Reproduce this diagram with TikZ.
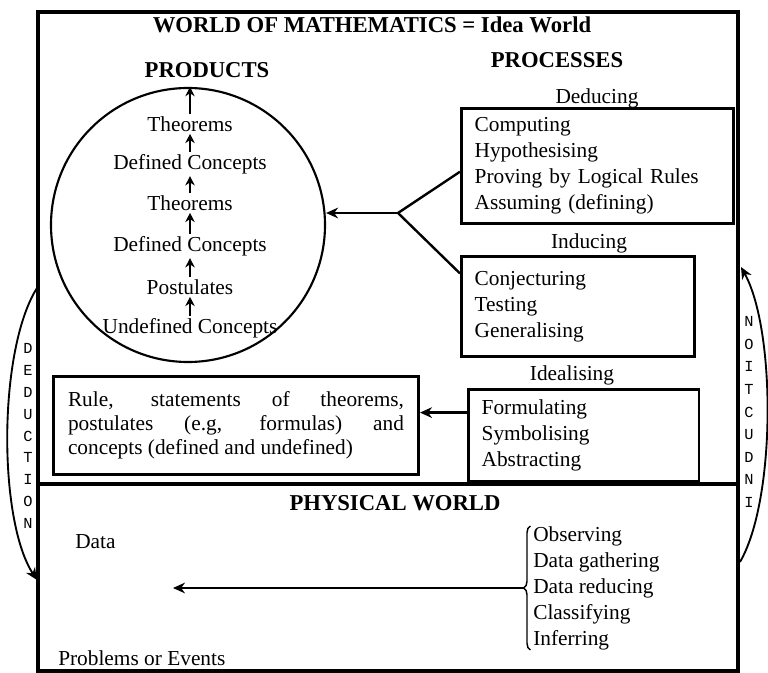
\documentclass[tikz,border=0pt]{standalone}
\usepackage{fontspec}
\setmainfont{Liberation Serif}
\setmonofont{Liberation Mono}
\usetikzlibrary{positioning,arrows.meta,calc,decorations.pathreplacing}

\begin{document}
\begin{tikzpicture}[
  x=.75pt,y=-.75pt,>=Stealth,
  font=\fontsize{16}{19.5}\selectfont,
  heading/.style={font=\fontsize{17}{20}\selectfont\bfseries,inner sep=0pt},
  frame/.style={black,line width=2.6pt},
  procbox/.style={draw,line width=2pt,anchor=north west,align=left,inner xsep=10pt,inner ysep=0pt},
  procname/.style={inner sep=0pt},
  concept/.style={inner sep=1.5pt},
  uparrow/.style={-{Stealth[length=7pt,width=7pt]},line width=1.4pt},
  link/.style={-{Stealth[length=9pt,width=8pt]},line width=1.9pt},
  spelled/.style={font=\fontsize{11.5}{16.4}\selectfont\ttfamily,align=center,inner sep=0pt}
]
\useasboundingbox (0,0) rectangle (768,673);

% the two worlds
\draw[frame] (38,12) rectangle (738,671);
\draw[frame,line width=3.4pt] (38,484) -- (738,484);
\node[heading] (maths) at (372,25) {WORLD OF MATHEMATICS = Idea World};
\node[heading] (products) at (207,70) {PRODUCTS};
\node[heading] (processes) at (557,60) {PROCESSES};

% products
\node[circle,draw,line width=1.6pt,minimum size={274*.75pt},inner sep=0pt] (idea) at (188,225) {};
\node[concept] (thB) at (190,124) {Theorems};
\node[concept] (defB) at (190,164) {Defined Concepts};
\node[concept] (thA) at (190,203) {Theorems};
\node[concept] (defA) at (190,246) {Defined Concepts};
\node[concept] (post) at (190,287) {Postulates};
\node[concept] (undef) at (190,328) {Undefined Concepts};
\foreach \a/\b in {undef/post,post/defA,defA/thA,thA/defB,defB/thB}
  \draw[uparrow] (\a.north) -- (\b.south);
\draw[uparrow] (thB.north) -- (thB.north |- idea.north);

% processes
\node[procname] (deducing) at (597,98) {Deducing};
\node[procbox,text width=184pt,minimum height=86.25pt] (dedbox) at (460,107)
  {Computing\\Hypothesising\\Proving by Logical Rules\\Assuming (defining)};
\node[procname] (inducing) at (589,243) {Inducing};
\node[procbox,text width=154.75pt,minimum height=75pt] (indbox) at (460,255)
  {Conjecturing\\Testing\\Generalising};
\node[procname] (idealising) at (572,375) {Idealising};
\node[procbox,text width=153pt,minimum height=69pt] (idlbox) at (467,388)
  {Formulating\\Symbolising\\Abstracting};

\coordinate (split) at (398,213);
\draw[line width=1.8pt] ($(dedbox.north west)!.55!(dedbox.south west)$) -- (split)
  -- ($(indbox.north west)!.18!(indbox.south west)$);
\draw[link] (split) -- (split -| idea.east);

\node[draw,line width=2pt,anchor=north west,text width=252pt,align=justify,inner xsep=11pt,
  minimum height=73.5pt,font=\fontsize{16}{18}\selectfont] (rules) at (52,375)
  {Rule, statements of theorems,\linebreak postulates (e.g, formulas) and\linebreak concepts (defined and undefined)};
\coordinate (idlout) at ($(idlbox.north west)!.26!(idlbox.south west)$);
\draw[link] (idlout) -- (idlout -| rules.east);

% physical world
\node[heading] (physical) at (395,503) {PHYSICAL WORLD};
\node[anchor=west,inner sep=0pt] (data) at (75,542) {Data};
\node[anchor=west,inner sep=0pt] (events) at (58,658) {Problems or Events};
\node[anchor=west,align=left,inner sep=0pt] (methods) at (533,588)
  {Observing\\Data gathering\\Data reducing\\Classifying\\Inferring};
\draw[line width=1.1pt,decorate,decoration={brace,amplitude=5pt}]
  ([xshift=-2pt]methods.south west) -- ([xshift=-2pt]methods.north west);
\coordinate (bracetip) at ([xshift=-7pt]methods.west);
\coordinate (datapoint) at (173,588);
\draw[link] (bracetip) -- (datapoint);

% deduction / induction
\coordinate (dedtop) at (37,288);
\coordinate (dedend) at (37,580);
\draw[link,line width=1.4pt] (dedtop) .. controls (-2,350) and (-2,520) .. (dedend);
\node[spelled] (deduction) at (28,436) {D\\E\\D\\U\\C\\T\\I\\O\\N};
\coordinate (indstart) at (740,562);
\coordinate (indtop) at (741,267);
\draw[link,line width=1.4pt] (indstart) .. controls (776,500) and (776,330) .. (indtop);
\node[spelled,font=\fontsize{11.5}{16.9}\selectfont\ttfamily] (induction) at (749,412) {N\\O\\I\\T\\C\\U\\D\\N\\I};
\end{tikzpicture}
\end{document}
